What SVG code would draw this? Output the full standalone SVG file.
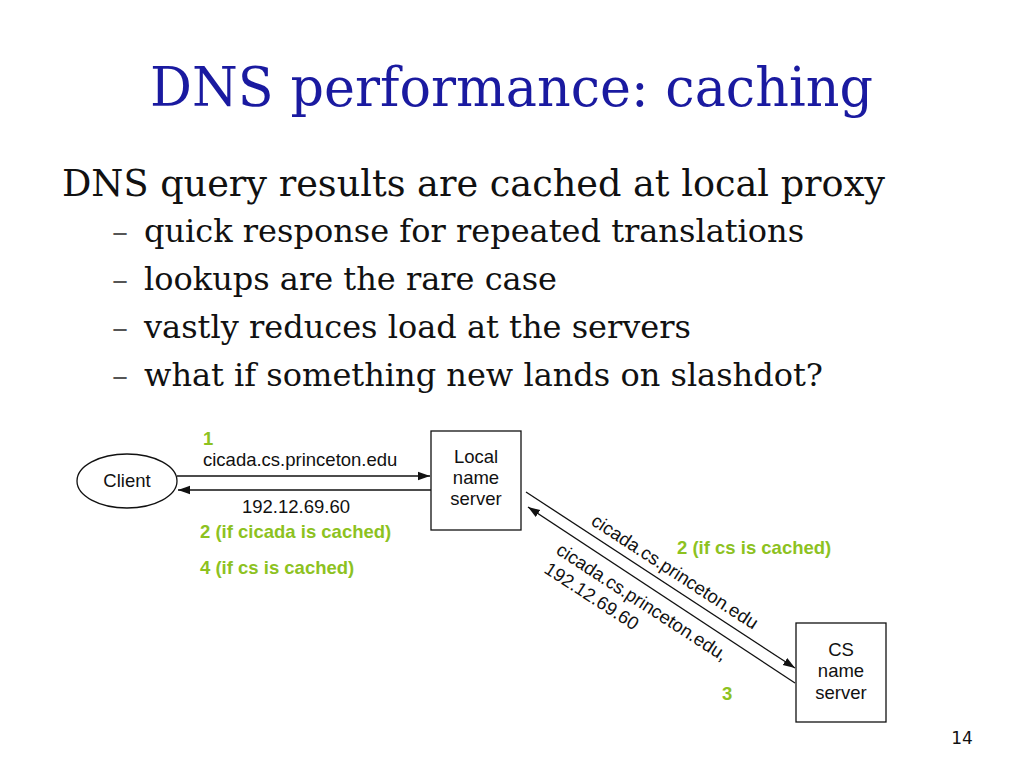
<svg xmlns="http://www.w3.org/2000/svg" width="1024" height="768" viewBox="0 0 1024 768">
<style>
.t{font-family:"DejaVu Serif",serif;fill:#111}
.d{font-family:"Liberation Sans",Arial,sans-serif;font-size:18.5px;fill:#111}
.g{font-family:"Liberation Sans",Arial,sans-serif;font-size:18.5px;font-weight:bold;fill:#8dc21f}
.n{fill:#fff;stroke:#111;stroke-width:1.3}
.c{stroke:#111;stroke-width:1.3;fill:none;marker-end:url(#a)}
</style>
<defs><marker id="a" viewBox="0 0 10 10" refX="10" refY="5" markerWidth="12" markerHeight="12" markerUnits="userSpaceOnUse" orient="auto"><path d="M0,1.5L10,5L0,8.5z" fill="#111"/></marker></defs>
<rect width="1024" height="768" fill="#fff"/>
<text x="150" y="106" textLength="723" lengthAdjust="spacingAndGlyphs" class="t" style="font-size:55px;fill:#1a1aa0">DNS performance: caching</text>
<text x="62" y="196" textLength="823" lengthAdjust="spacingAndGlyphs" class="t" style="font-size:37px">DNS query results are cached at local proxy</text>
<g class="t" style="font-size:32px">
<text x="112" y="242" style="fill:#555">–</text><text x="144" y="242">quick response for repeated translations</text>
<text x="112" y="290" style="fill:#555">–</text><text x="144" y="290">lookups are the rare case</text>
<text x="112" y="338" style="fill:#555">–</text><text x="144" y="338">vastly reduces load at the servers</text>
<text x="112" y="386" style="fill:#555">–</text><text x="144" y="386">what if something new lands on slashdot?</text>
</g>
<g id="client"><ellipse class="n" cx="127" cy="481" rx="50" ry="27"/><text class="d" x="127" y="487" text-anchor="middle">Client</text></g>
<g id="local"><rect class="n" x="431" y="431" width="90" height="99"/><text class="d" text-anchor="middle"><tspan x="476" y="463">Local</tspan><tspan x="476" y="484">name</tspan><tspan x="476" y="505">server</tspan></text></g>
<g id="cs"><rect class="n" x="796" y="623" width="90" height="99"/><text class="d" text-anchor="middle"><tspan x="841" y="656">CS</tspan><tspan x="841" y="677">name</tspan><tspan x="841" y="699">server</tspan></text></g>
<g id="connectors">
<line class="c" x1="177" y1="476" x2="430" y2="476"/>
<line class="c" x1="431" y1="490" x2="178" y2="490"/>
<line class="c" x1="526" y1="492" x2="795" y2="668"/>
<line class="c" x1="795" y1="683" x2="528" y2="507"/>
</g>
<text class="g" x="203" y="445">1</text>
<text class="d" x="203" y="466">cicada.cs.princeton.edu</text>
<text class="d" x="242" y="513">192.12.69.60</text>
<text class="g" x="200" y="538">2 (if cicada is cached)</text>
<text class="g" x="200" y="574">4 (if cs is cached)</text>
<text class="g" x="677" y="554">2 (if cs is cached)</text>
<text class="g" x="722" y="700">3</text>
<text class="d" transform="translate(590,524) rotate(33)">cicada.cs.princeton.edu</text>
<text class="d" transform="translate(555,553) rotate(33)">cicada.cs.princeton.edu,</text>
<text class="d" transform="translate(543,572) rotate(33)">192.12.69.60</text>
<text x="962" y="744" text-anchor="middle" style="font-family:'DejaVu Sans',sans-serif;font-size:17px;fill:#111">14</text>
</svg>
